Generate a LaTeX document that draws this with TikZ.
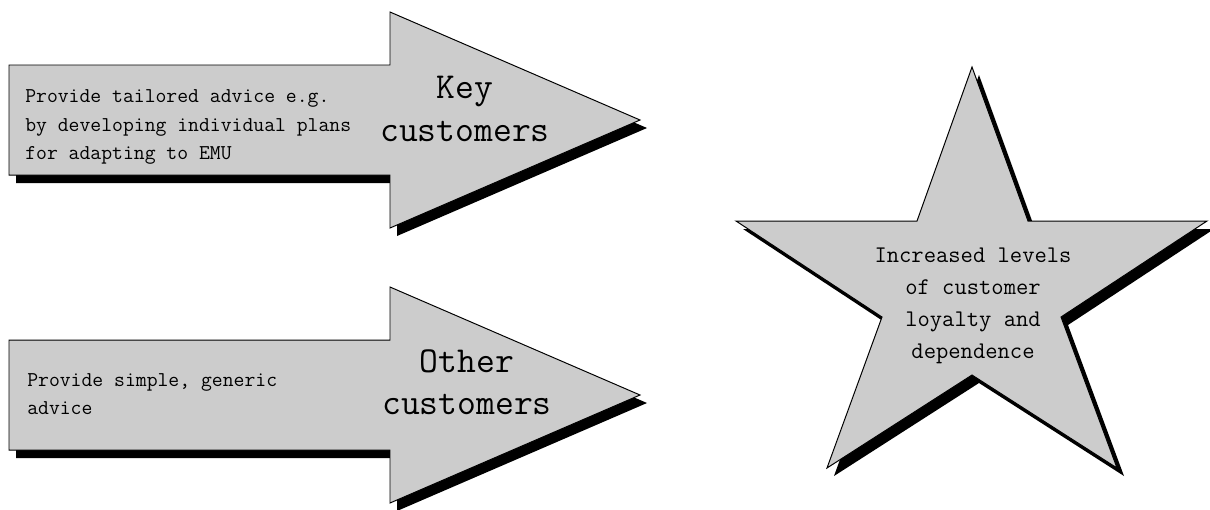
\documentclass[tikz,border=0pt]{standalone}

\tikzset{
    adv shape/.style={draw=black, line width=0.7pt, fill=black!20,
                      line join=miter},
    adv shadow/.style={fill=black},
    adv note/.style={font=\ttfamily\fontsize{15}{20.3}\selectfont,
                     align=left, anchor=west, inner sep=0pt},
    adv label/.style={font=\ttfamily\fontsize{26}{30}\selectfont,
                      align=center, inner sep=0pt},
    adv star text/.style={font=\ttfamily\fontsize{17}{22.8}\selectfont,
                          align=center, inner sep=0pt},
}

% grey block arrow with its drop shadow, #1 = y of the centre line
\newcommand{\custarrow}[1]{%
    \fill[adv shadow, shift={(7,8)}]
        (9,#1-55) -- (390,#1-55) -- (390,#1-108) -- (640,#1)
        -- (390,#1+108) -- (390,#1+55) -- (9,#1+55) -- cycle;
    \filldraw[adv shape]
        (9,#1-55) -- (390,#1-55) -- (390,#1-108) -- (640,#1)
        -- (390,#1+108) -- (390,#1+55) -- (9,#1+55) -- cycle;
}

% five pointed star, a bit wider than it is tall
\newcommand{\custstar}{%
    (972,67) -- (1028,221) -- (1207,221) -- (1061,317) -- (1117,468)
    -- (972,375) -- (827,468) -- (882,317) -- (736,221) -- (917,221)
    -- cycle
}

\begin{document}
\begin{tikzpicture}[x=0.025cm, y=-0.025cm]
    \useasboundingbox (0,0) rectangle (1210,509);

    % Key customers
    \custarrow{120}
    \node[adv note] (key note) at (25,127)
        {Provide tailored advice e.g.\\by developing individual plans\\for adapting to EMU};
    \node[adv label] (key label) at (465,109) {Key\\customers};

    % Other customers
    \custarrow{395}
    \node[adv note] (other note) at (27,394)
        {Provide simple, generic\\advice};
    \node[adv label] (other label) at (467,382) {Other\\customers};

    % Outcome star
    \fill[adv shadow, shift={(7,8)}] \custstar;
    \filldraw[adv shape] \custstar;
    \node[adv star text] (loyalty) at (973,306)
        {Increased levels\\of customer\\loyalty and\\dependence};
\end{tikzpicture}
\end{document}
